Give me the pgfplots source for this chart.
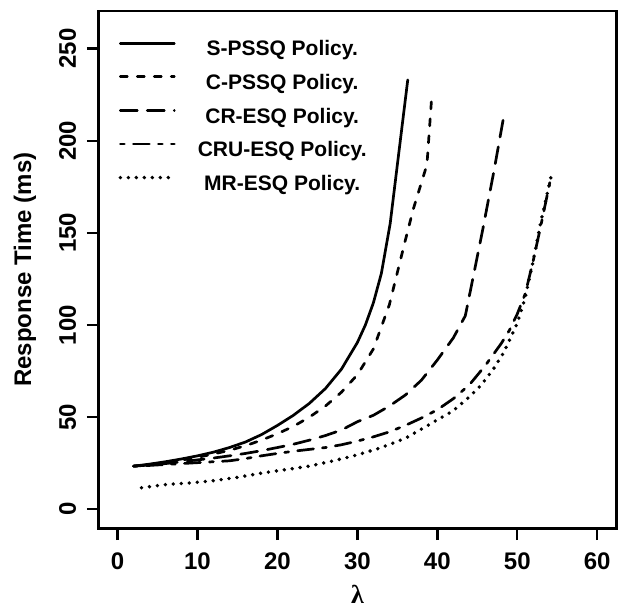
\documentclass[border=0pt]{standalone}
\usepackage{fontspec}
\setmainfont{Liberation Sans}
\newfontfamily\symfont{Liberation Serif}
\usepackage{pgfplots}
\pgfplotsset{compat=1.18}

\begin{document}
\begin{tikzpicture}
\useasboundingbox (-49.2pt,-43.3pt) rectangle (260.4pt,264.3pt);
\begin{axis}[
    scale only axis,
    width=259.1pt,
    height=258.8pt,
    xmin=-2.4, xmax=62.4,
    ymin=-10.4, ymax=270.4,
    xtick={0,10,...,60},
    ytick={0,50,...,250},
    xtick pos=left, ytick pos=left,
    tick align=outside,
    major tick length=5.8pt,
    axis line style={line width=1.2pt},
    every tick/.style={line width=1.2pt, black},
    /pgf/number format/assume math mode=true,
    ticklabel style={font=\fontsize{12}{14}\selectfont\bfseries},
    xticklabel style={anchor=center, yshift=-10.4pt},
    yticklabel style={rotate=90, anchor=center, yshift=9.6pt},
    xlabel={{\symfont\bfseries λ}},
    ylabel={Response Time (ms)},
    label style={font=\fontsize{12}{14}\selectfont\bfseries},
    xlabel style={at={(axis description cs:0.5,-0.128)}, anchor=center,
        font=\fontsize{13}{15}\selectfont\bfseries},
    ylabel style={at={(axis description cs:-0.1416,0.5)}, anchor=center},
    legend style={at={(axis description cs:0.038,0.943)}, anchor=north west,
        draw=none, fill=none, inner sep=0pt,
        font=\fontsize{10.5}{12}\selectfont\bfseries,
        nodes={inner sep=0pt, text height=7.5pt, text depth=2pt},
        row sep=7.3pt, column sep=10pt},
    legend image code/.code={\draw[#1] (0pt,3.6pt) -- (27pt,3.6pt);},
    every axis plot/.append style={black, line width=1.35pt, line cap=round, line join=round},
]
\addplot[solid] coordinates {
    (2,23.4) (4,24.5) (6,25.8) (8,27.3) (10,29) (12,31) (14,33.5) (16,36.5)
    (18,40.5) (20,45.5) (22,51) (24,57.5) (26,65.5) (28,76) (30,90.5) (31,100)
    (32,112) (33,128) (34.1,155) (35,187) (36.3,233)
};
\addlegendentry{\makebox[86pt]{S-PSSQ Policy.}}
\addplot[dash pattern=on 3.5pt off 5pt] coordinates {
    (2,23.4) (4,24.3) (6,25.4) (8,26.7) (10,28.2) (12,30) (14,32) (16,34.5)
    (18,37.5) (20,41) (22,45) (24,50) (26,56) (28,63.5) (30,73) (32,87)
    (34,111) (36,146) (37,163) (38.7,187) (39.3,224)
};
\addlegendentry{\makebox[86pt]{C-PSSQ Policy.}}
\addplot[dash pattern=on 8.5pt off 5pt] coordinates {
    (2,23.4) (4,24) (6,24.8) (8,25.8) (10,26.8) (12,27.8) (14,29) (16,30.3)
    (18,31.8) (20,33.5) (22,35.3) (24,37.5) (26,40) (28,43) (30,47.5) (32,51)
    (34,56) (36,62) (38,70) (40,81) (42,93) (43.5,105) (45.6,150) (47.1,184)
    (48.3,213)
};
\addlegendentry{\makebox[86pt]{CR-ESQ Policy.}}
\addplot[dash pattern=on 2pt off 4.5pt on 8pt off 4.5pt] coordinates {
    (2,23.4) (4,23.8) (6,24.3) (8,24.8) (10,25.3) (12,25.8) (14,26.3) (16,27.5)
    (18,29) (20,30.3) (22,31.5) (24,32.5) (26,33.5) (28,35) (30,37) (32,39.3)
    (34,42) (36,45.5) (38,49.5) (40,54) (42,60) (44,67.5) (46,78) (48,90)
    (49,97) (50,106) (51,117) (52,135) (53,155) (54.1,178)
};
\addlegendentry{\makebox[86pt]{CRU-ESQ Policy.}}
\addplot[line width=1.9pt, dash pattern=on 0pt off 4pt] coordinates {
    (3,11.7) (6,13.4) (9,14.3) (12,15.5) (15,17.3) (18,19.6) (21,21.5) (24,23.4)
    (27,26.3) (30,29.5) (33,33.5) (36,38.5) (39,46) (42,53.5) (44,61) (45.4,67)
    (47,76) (48.3,85) (50,101) (51,115) (52,135) (53,157) (54.3,182)
};
\addlegendentry{\makebox[86pt]{MR-ESQ Policy.}}
\end{axis}
\end{tikzpicture}
\end{document}
